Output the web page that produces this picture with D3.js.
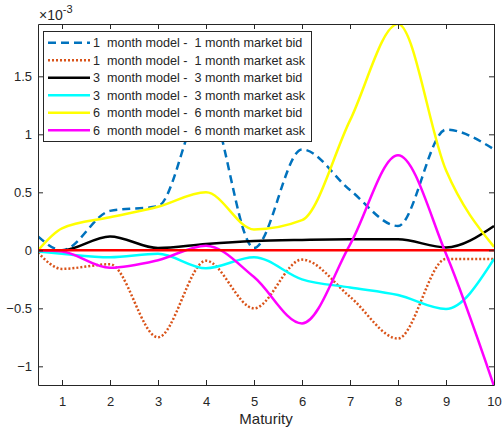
<!DOCTYPE html>
<html>
<head>
<meta charset="utf-8">
<script src="https://cdn.jsdelivr.net/npm/d3@7"></script>
<style>
  body { margin: 0; background: #fff; }
  text { font-family: "Liberation Sans", Arial, sans-serif; fill: #262626; }
</style>
</head>
<body>
<div id="chart"></div>
<script>
var width = 504;
var height = 432;
var margin = {top: 24, right: 10, bottom: 47, left: 38};

// maturities (nodes of the curves)
var maturity = [0.5, 1, 2, 3, 4, 5, 6, 7, 8, 9, 10];

// differences, units of 1e-3
var bid1 = [0.12, 0.0, 0.34, 0.38, 1.29, 0.02, 0.87, 0.52, 0.21, 1.04, 0.87];
var ask1 = [-0.02, -0.16, -0.12, -0.75, -0.09, -0.50, -0.08, -0.40, -0.76, -0.075, -0.075];
var bid3 = [0.0, 0.0, 0.12, 0.02, 0.055, 0.08, 0.09, 0.095, 0.095, 0.025, 0.21];
var ask3 = [-0.01, -0.03, -0.06, -0.03, -0.155, -0.06, -0.25, -0.32, -0.385, -0.505, -0.075];
var bid6 = [0.0, 0.19, 0.285, 0.375, 0.50, 0.18, 0.26, 1.12, 1.95, 0.69, 0.03];
var ask6 = [0.0, -0.01, -0.15, -0.085, 0.04, -0.23, -0.63, 0.05, 0.82, -0.03, -1.17];

var labels = [
  "1  month model -  1 month market bid",
  "1  month model -  1 month market ask",
  "3  month model -  3 month market bid",
  "3  month model -  3 month market ask",
  "6  month model -  6 month market bid",
  "6  month model -  6 month market ask"
];
var xTicks = [1, 2, 3, 4, 5, 6, 7, 8, 9, 10];
var yTicks = [-1, -0.5, 0, 0.5, 1, 1.5];

var series = [
  {name: labels[0], values: bid1, color: "#0072BD", dash: "8,5"},
  {name: labels[1], values: ask1, color: "#D95319", dash: "2,2"},
  {name: labels[2], values: bid3, color: "#000000", dash: null},
  {name: labels[3], values: ask3, color: "#00FFFF", dash: null},
  {name: labels[4], values: bid6, color: "#FFFF00", dash: null},
  {name: labels[5], values: ask6, color: "#FF00FF", dash: null}
];

var svg = d3.select("#chart").append("svg")
  .attr("width", width)
  .attr("height", height);

var xscale = d3.scaleLinear()
  .domain([0.5, 10])
  .range([margin.left, width - margin.right]);

var yscale = d3.scaleLinear()
  .domain([-1.161, 1.951])
  .range([height - margin.bottom, margin.top]);

svg.append("clipPath").attr("id", "clip")
  .append("rect")
  .attr("x", margin.left).attr("y", margin.top)
  .attr("width", width - margin.right - margin.left)
  .attr("height", height - margin.bottom - margin.top);

var line = d3.line()
  .x(function (d) { return xscale(d[0]); })
  .y(function (d) { return yscale(d[1]); })
  .curve(d3.curveMonotoneX);

var plot = svg.append("g").attr("clip-path", "url(#clip)");

series.forEach(function (s) {
  var pts = maturity.map(function (m, i) { return [m, s.values[i]]; });
  plot.append("path")
    .datum(pts)
    .attr("fill", "none")
    .attr("stroke", s.color)
    .attr("stroke-width", 2.5)
    .attr("stroke-dasharray", s.dash)
    .attr("d", line);
});

// zero line
plot.append("line")
  .attr("x1", xscale(0.5)).attr("x2", xscale(10))
  .attr("y1", yscale(0)).attr("y2", yscale(0))
  .attr("stroke", "#FF0000")
  .attr("stroke-width", 2.5);

// axes (box with inward ticks)
var x0 = margin.left, x1 = width - margin.right;
var y0 = height - margin.bottom, y1 = margin.top;

var xaxis = d3.axisBottom(xscale).tickValues(xTicks).tickSizeInner(-5).tickSizeOuter(0).tickPadding(12);
var gx = svg.append("g").attr("transform", "translate(0," + y0 + ")").call(xaxis);
var xtop = d3.axisTop(xscale).tickValues(xTicks).tickSizeInner(-5).tickSizeOuter(0).tickFormat("");
var gxt = svg.append("g").attr("transform", "translate(0," + y1 + ")").call(xtop);

var yaxis = d3.axisLeft(yscale).tickValues(yTicks).tickSizeInner(-5).tickSizeOuter(0).tickPadding(6)
  .tickFormat(function (d) { return d3.format("")(d); });
var gy = svg.append("g").attr("transform", "translate(" + x0 + ",0)").call(yaxis);
var yright = d3.axisRight(yscale).tickValues(yTicks).tickSizeInner(-5).tickSizeOuter(0).tickFormat("");
var gyr = svg.append("g").attr("transform", "translate(" + x1 + ",0)").call(yright);

[gx, gxt, gy, gyr].forEach(function (g) {
  g.selectAll("path").attr("stroke", "#262626").attr("stroke-width", 1);
  g.selectAll("line").attr("stroke", "#262626");
  g.selectAll("text").style("font-size", "13px").attr("fill", "#262626");
});

// exponent label
var expo = svg.append("text").attr("x", x0 + 1).attr("y", 20).style("font-size", "14px");
expo.append("tspan").text("\u00D710");
expo.append("tspan").attr("dy", -7).style("font-size", "11px").text("-3");

// x label
svg.append("text")
  .attr("x", (x0 + x1) / 2)
  .attr("y", 424)
  .attr("text-anchor", "middle")
  .style("font-size", "15px")
  .text("Maturity");

// legend
var legend = svg.append("g");
legend.append("rect")
  .attr("x", 43.5).attr("y", 31.5)
  .attr("width", 268).attr("height", 110)
  .attr("fill", "#fff")
  .attr("stroke", "#262626")
  .attr("stroke-width", 1);

series.forEach(function (s, i) {
  var yy = 42.7 + i * 17.5;
  legend.append("line")
    .attr("x1", 48).attr("x2", 90)
    .attr("y1", yy).attr("y2", yy)
    .attr("stroke", s.color)
    .attr("stroke-width", 2.5)
    .attr("stroke-dasharray", s.dash);
  legend.append("text")
    .attr("x", 93).attr("y", yy + 4.5)
    .style("font-size", "12.6px")
    .style("white-space", "pre")
    .attr("xml:space", "preserve")
    .text(s.name);
});
</script>
</body>
</html>
